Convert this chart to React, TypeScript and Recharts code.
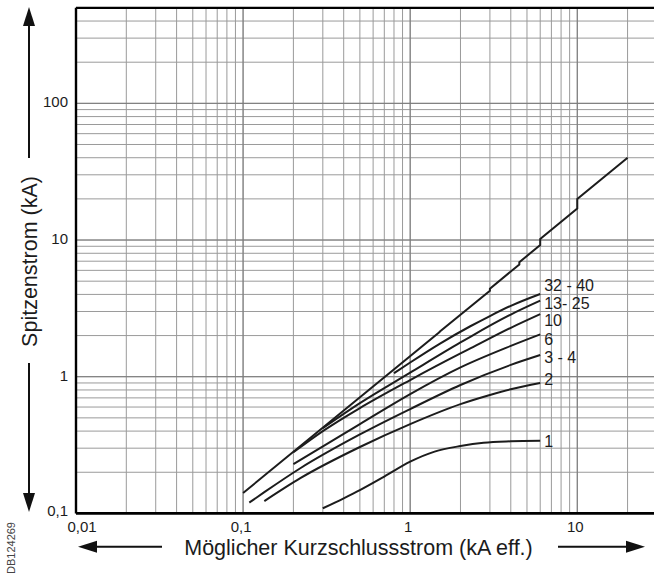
import React from 'react';
import { LineChart, Line, XAxis, YAxis, CartesianGrid, ReferenceLine } from 'recharts';

// ---- grid / tick values ----
const xGridTicks = [
  0.01, 0.02, 0.03, 0.04, 0.05, 0.06, 0.07, 0.08, 0.09,
  0.1, 0.2, 0.3, 0.4, 0.5, 0.6, 0.7, 0.8, 0.9,
  1, 2, 3, 4, 5, 6, 7, 8, 9,
  10, 20,
];
const yGridTicks = [
  0.1, 0.2, 0.3, 0.4, 0.5, 0.6, 0.7, 0.8, 0.9,
  1, 2, 3, 4, 5, 6, 7, 8, 9,
  10, 20, 30, 40, 50, 60, 70, 80, 90,
  100, 200, 300, 400,
];
const xDecades = [0.1, 1, 10];
const yDecades = [1, 10, 100];
const xTickValues = [0.01, 0.1, 1, 10];
const xTickTexts = ['0,01', '0,1', '1', '10'];
const yTickValues = [0.1, 1, 10, 100];
const yTickTexts = ['0,1', '1', '10', '100'];

// ---- series (x: prospective current kA, y: peak current kA) ----
const prospectivePeak: [number, number][] = [
  [0.1, 0.141], [1.5, 2.12], [1.5, 2.13], [3, 4.26], [3, 4.41], [4.5, 6.62], [4.5, 6.89],
  [6, 9.18], [6, 10.2], [10, 17.0], [10, 20.0], [20, 40.0],
];
const curve32to40: [number, number][] = [
  [0.8, 1.06], [1, 1.27], [1.5, 1.74], [2.29, 2.34], [3, 2.78], [4, 3.3], [6, 4.03],
];
const curve13to25: [number, number][] = [
  [0.3, 0.42], [0.5, 0.64], [1, 1.07], [2, 1.78], [2.29, 1.96], [4, 2.85], [6, 3.6],
];
const curve10: [number, number][] = [
  [0.2, 0.28], [0.3, 0.4], [0.5, 0.59], [1, 0.946], [2, 1.48], [2.29, 1.61], [4, 2.28], [6, 2.87],
];
const curve6: [number, number][] = [
  [0.2, 0.229], [0.5, 0.45], [1, 0.746], [2, 1.17], [4, 1.68], [6, 2.04],
];
const curve3to4: [number, number][] = [
  [0.109, 0.12], [0.134, 0.143], [0.22, 0.214], [0.5, 0.378], [1, 0.58], [2, 0.87], [4, 1.22], [6, 1.44],
];
const curve2: [number, number][] = [
  [0.134, 0.123], [0.22, 0.181], [0.5, 0.306], [1, 0.45], [2, 0.63], [3, 0.735], [4, 0.81], [6, 0.9],
];
const curve1: [number, number][] = [
  [0.3, 0.109], [0.4, 0.129], [0.5, 0.148], [0.7, 0.186], [1, 0.239], [1.4, 0.283], [2, 0.311],
  [2.75, 0.329], [4, 0.337], [6, 0.34],
];
const curveNames = ['32 - 40', '13- 25', '10', '6', '3 - 4', '2', '1'];
const curveSets = [curve32to40, curve13to25, curve10, curve6, curve3to4, curve2, curve1];

// label placement (style only)
const labelDy: Record<string, number> = {
  '32 - 40': -3, '13- 25': 8, '10': 11.4, '6': 10.7, '3 - 4': 7.7, '2': 2, '1': 6.7,
};

const FONT = '"Liberation Sans", Arial, Helvetica, sans-serif';
const INK = '#1c1c1c';

const toRows = (pts: [number, number][]) => pts.map(([x, y]) => ({ x, y }));

const XTick = (props: any) => {
  const { x, y, payload } = props;
  const i = xTickValues.indexOf(payload.value);
  if (i < 0) return null;
  const dx = payload.value === 0.01 ? 6 : -2;
  return (
    <text x={x + dx} y={y + 18.8} textAnchor="middle" fontSize={15} fontFamily={FONT} fill={INK}>
      {xTickTexts[i]}
    </text>
  );
};

const YTick = (props: any) => {
  const { x, y, payload } = props;
  const i = yTickValues.indexOf(payload.value);
  if (i < 0) return null;
  const dy = payload.value === 0.1 ? -2.7 : -1.5;
  return (
    <text x={x - 8} y={y + dy + 5.4} textAnchor="end" fontSize={15} fontFamily={FONT} fill={INK}>
      {yTickTexts[i]}
    </text>
  );
};

const endLabel = (name: string, last: number) => (props: any) => {
  const { x, y, index } = props;
  if (index !== last) return null;
  return (
    <text key={name} x={x + 4} y={y + labelDy[name]} fontSize={16} fontFamily={FONT} fill={INK}>
      {name}
    </text>
  );
};

export default function App() {
  return (
    <div style={{ position: 'absolute', left: 0, top: 0, width: 654, height: 573, overflow: 'hidden', background: '#fff' }}>
      <LineChart width={657} height={573} margin={{ top: 7.8, right: 0, bottom: 0, left: 0 }}>
        <CartesianGrid stroke="#9a9a9a" strokeWidth={1} />
        {xDecades.map((v) => (
          <ReferenceLine key={'xd' + v} x={v} stroke="#7a7a7a" strokeWidth={1} />
        ))}
        {yDecades.map((v) => (
          <ReferenceLine key={'yd' + v} y={v} stroke="#7a7a7a" strokeWidth={1} />
        ))}
        <XAxis
          dataKey="x"
          type="number"
          scale="log"
          domain={[0.01, 30]}
          allowDataOverflow
          ticks={xGridTicks}
          interval={0}
          height={59.6}
          tickSize={0}
          tickMargin={0}
          tick={<XTick />}
          axisLine={{ stroke: '#000', strokeWidth: 2.6 }}
          tickLine={false}
        />
        <YAxis
          dataKey="y"
          type="number"
          scale="log"
          domain={[0.1, 500]}
          allowDataOverflow
          ticks={yGridTicks}
          interval={0}
          width={76}
          tickSize={0}
          tickMargin={0}
          tick={<YTick />}
          axisLine={{ stroke: '#000', strokeWidth: 2.4 }}
          tickLine={false}
        />
        <ReferenceLine y={500} stroke="#000" strokeWidth={2.2} />
        <Line
          data={toRows(prospectivePeak)}
          dataKey="y"
          type="linear"
          stroke={INK}
          strokeWidth={2}
          dot={false}
          activeDot={false}
          isAnimationActive={false}
        />
        {curveSets.map((pts, k) => (
          <Line
            key={curveNames[k]}
            data={toRows(pts)}
            dataKey="y"
            type="monotone"
            stroke={INK}
            strokeWidth={2}
            dot={false}
            activeDot={false}
            isAnimationActive={false}
            label={endLabel(curveNames[k], pts.length - 1)}
          />
        ))}
      </LineChart>
      <svg width={654} height={573} style={{ position: 'absolute', left: 0, top: 0, pointerEvents: 'none' }}>
        {/* y arrows */}
        <line x1={29} y1={158} x2={29} y2={22} stroke="#111" strokeWidth={2} />
        <polygon points="29,7 23,26 35,26" fill="#111" />
        <line x1={29} y1={363} x2={29} y2={496} stroke="#111" strokeWidth={2} />
        <polygon points="29,512 23,493 35,493" fill="#111" />
        {/* x arrows */}
        <line x1={94} y1={546.7} x2={162} y2={546.7} stroke="#111" strokeWidth={2} />
        <polygon points="78,546.7 97,540.7 97,552.7" fill="#111" />
        <line x1={558} y1={546.7} x2={628} y2={546.7} stroke="#111" strokeWidth={2} />
        <polygon points="645,546.7 626,540.7 626,552.7" fill="#111" />
        <text x={358.5} y={555} textAnchor="middle" fontSize={21.5} fontFamily={FONT} fill={INK}>
          Möglicher Kurzschlussstrom (kA eff.)
        </text>
        <text transform="translate(36.5,261.5) rotate(-90)" textAnchor="middle" fontSize={21.5} fontFamily={FONT} fill={INK}>
          Spitzenstrom (kA)
        </text>
        <text transform="translate(15,548) rotate(-90)" textAnchor="middle" fontSize={11} fontFamily={FONT} fill="#444">
          DB124269
        </text>
      </svg>
    </div>
  );
}
